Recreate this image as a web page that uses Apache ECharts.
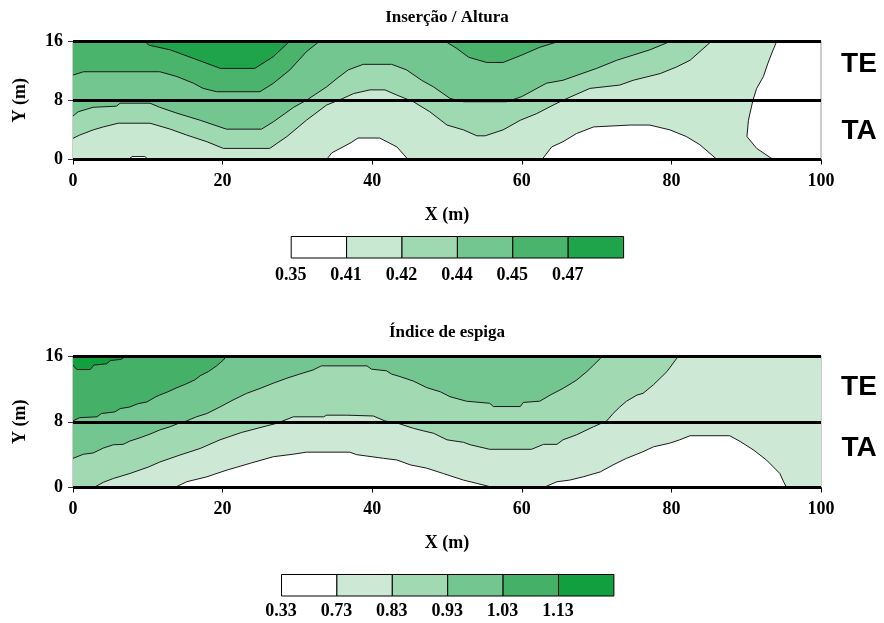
<!DOCTYPE html>
<html>
<head>
<meta charset="utf-8">
<script src="https://cdn.jsdelivr.net/npm/echarts@6/dist/echarts.min.js"></script>
<style>
  html, body { margin: 0; padding: 0; background: #fff; }
  #chart { width: 884px; height: 623px; }
</style>
</head>
<body>
<div id="chart"></div>
<script>
// ---- Class breaks and fills ----
const insercaoBreaks = ['0.35', '0.41', '0.42', '0.44', '0.45', '0.47'];
const indiceBreaks = ['0.33', '0.73', '0.83', '0.93', '1.03', '1.13'];
const insercaoColors = ['#ffffff', '#c8e8d2', '#9fd9b1', '#73c690', '#4ab36c', '#1fa34b'];
const indiceColors = ['#ffffff', '#cde9d6', '#a1d9b2', '#73c68f', '#45b068', '#129f40'];

// ---- Axis ranges ----
const xRange = [0, 100];
const yRange = [0, 16];
const bandLines = [0, 8, 16];        // limits of the TA / TE strata
const strata = ['TE', 'TA'];

// ---- Inserção / Altura: area where the value reaches each break (X m, Y m) ----
const insercaoZone1 = [[0,0],[7.4,0],[7.9,0.4],[9.6,0.4],[10.1,0],[33.9,0],[34.6,0.9],[36.1,1.7],[37.2,2.3],[38.1,2.9],[41.0,2.9],[43.3,1.7],[44.8,0],
  [62.7,0],[64.0,1.7],[65.5,2.4],[67.3,3.5],[69.6,4.4],[74.5,4.65],[77.1,4.65],[79.8,4.0],[82.0,3.1],[83.8,2.0],[86.1,0],
  [93.6,0],[91.4,1.5],[90.1,3.1],[90.3,5.3],[90.7,7.1],[90.9,8.0],[91.4,9.6],[92.3,11.2],[92.9,13.0],[93.6,14.8],[94.1,16],[0,16]];
const insercaoZone2 = [[0,2.86],[0.9,3.3],[2.7,4.0],[4.05,4.4],[6.05,4.9],[10.3,4.9],[13.0,4.1],[15.2,3.3],[17.9,2.4],[20.1,1.5],[26.3,1.5],[28.6,3.1],
  [31.2,5.3],[33.9,7.35],[36.1,8.25],[37.5,8.9],[39.7,9.4],[41.7,9.4],[43.3,8.7],[45.5,7.8],[47.7,6.45],[50.0,4.65],[52.2,4.0],[54.0,3.2],[55.1,3.2],
  [57.5,4.0],[59.8,5.3],[62.0,6.2],[64.2,7.35],[65.5,8.0],[69.1,9.6],[73.1,10.05],[74.9,10.7],[78.5,11.6],[80.7,12.5],[82.5,13.4],[85.4,16],[0,16]];
const insercaoZone3 = [[0,5.87],[0.7,6.45],[2.7,7.05],[5.8,7.2],[6.3,7.6],[10.3,7.6],[11.6,7.05],[13.9,6.25],[17.0,5.3],[20.5,4.1],[25.2,4.1],[26.8,5.1],
  [29.5,7.05],[31.2,8.0],[33.9,9.8],[35.3,10.95],[36.8,12.1],[38.8,12.85],[42.6,12.85],[44.6,12.1],[46.6,10.7],[48.2,9.8],[50.4,8.25],[52.2,7.8],
  [58.0,7.8],[60.0,8.5],[63.3,10.3],[65.5,10.7],[70.0,12.3],[72.7,13.4],[74.9,14.1],[77.1,14.8],[80.0,16],[0,16]];
const insercaoZone4a = [[0,11.4],[1.4,11.85],[11.6,11.85],[13.9,11.2],[16.1,10.3],[17.4,9.6],[19.2,9.15],[25.0,9.15],[26.8,10.3],[29.0,12.1],[31.2,14.55],[33.0,16],[0,16]];
const insercaoZone4b = [[49.7,16],[51.3,15.0],[52.9,13.8],[55.3,13.1],[57.5,13.1],[60.0,14.1],[62.4,15.15],[65.1,16]];
const insercaoZone5 = [[9.6,16],[10.1,15.45],[13.0,14.8],[16.1,13.65],[19.7,12.3],[24.3,12.3],[26.8,13.9],[29.0,16]];

// ---- Índice de espiga ----
const indiceZone1 = [[0,0],[13.6,0],[15.2,0.7],[17.9,1.3],[20.5,2.1],[23.7,2.95],[26.8,3.75],[29.45,4.05],[31.2,4.3],[37.0,4.3],[37.9,4.0],[41.5,3.55],
  [43.3,3.35],[45.1,2.75],[47.3,2.35],[49.5,1.7],[52.2,0.9],[54.0,0.5],[56.2,0],[62.9,0],[64.7,0.7],[66.4,0.9],[68.2,1.3],[70.5,1.9],[72.2,2.75],
  [74.0,3.55],[76.2,4.35],[77.6,4.95],[79.8,5.4],[81.1,5.8],[82.5,6.3],[87.8,6.3],[89.2,5.6],[91.0,4.55],[92.7,3.35],[94.5,1.7],[95.0,0.7],[95.4,0],
  [100,0],[100,16],[0,16]];
const indiceZone2 = [[0,0],[2.8,0],[4.05,0.63],[5.4,1.1],[7.6,1.7],[10.1,2.5],[11.6,3.1],[14.3,3.95],[17.0,4.75],[19.65,5.8],[22.55,6.7],[25.9,7.5],
  [27.2,7.8],[29.45,8.6],[33.5,8.6],[33.9,8.8],[36.6,8.8],[40.15,8.7],[41.7,8.1],[43.5,7.8],[45.5,7.2],[46.8,6.9],[48.2,6.6],[50.0,5.8],[52.2,5.5],
  [53.1,5.2],[55.7,4.65],[61.3,4.65],[62.9,5.25],[64.7,5.25],[65.5,5.8],[67.3,6.4],[69.6,7.4],[71.35,8.1],[72.2,9.0],[73.1,9.8],[74.0,10.5],
  [75.4,11.25],[76.2,11.45],[77.6,12.5],[79.4,14.1],[80.7,15.7],[81.0,16],[0,16]];
const indiceZone3 = [[0,3.55],[1.4,4.05],[2.7,4.2],[4.05,4.8],[5.4,5.2],[6.7,5.25],[7.6,5.65],[8.95,6.05],[10.3,6.5],[11.6,7.0],[13.0,7.4],[14.1,7.8],
  [15.2,8.1],[16.5,8.6],[17.9,9.0],[19.65,9.8],[21.4,10.65],[23.2,11.45],[25.0,12.05],[26.8,12.7],[28.6,13.3],[30.3,13.8],[32.1,14.3],[33.2,14.8],
  [39.3,14.8],[39.9,14.4],[41.9,14.2],[42.6,13.8],[43.7,13.5],[45.5,12.95],[47.3,12.15],[49.1,11.65],[50.4,11.05],[52.6,10.5],[55.7,10.25],
  [56.2,9.85],[59.8,9.85],[60.2,10.35],[62.4,10.5],[63.8,11.25],[65.5,12.05],[67.3,13.05],[68.7,14.1],[70.5,15.7],[70.7,16],[0,16]];
const indiceZone4 = [[0,8.1],[0.9,8.5],[3.2,8.6],[3.8,9.0],[5.6,9.2],[6.3,9.6],[7.6,9.8],[8.7,10.2],[9.85,10.4],[11.0,11.0],[11.6,11.25],[12.7,11.65],
  [13.9,12.15],[15.0,12.55],[16.3,13.1],[17.0,13.6],[18.1,14.1],[19.2,14.8],[20.1,15.5],[20.5,16],[0,16]];
const indiceZone5 = [[0,14.9],[0.5,14.35],[2.3,14.35],[2.8,14.9],[4.5,15.05],[5.0,15.45],[6.5,15.6],[7.0,16],[0,16]];

// Zones painted from the lowest class up, each one over the previous
const insercaoZones = [
  { level: 1, pts: insercaoZone1 }, { level: 2, pts: insercaoZone2 }, { level: 3, pts: insercaoZone3 },
  { level: 4, pts: insercaoZone4a }, { level: 4, pts: insercaoZone4b }, { level: 5, pts: insercaoZone5 }
];
const indiceZones = [
  { level: 1, pts: indiceZone1 }, { level: 2, pts: indiceZone2 }, { level: 3, pts: indiceZone3 },
  { level: 4, pts: indiceZone4 }, { level: 5, pts: indiceZone5 }
];

const SERIF = '"Liberation Serif", "Times New Roman", serif';
const SANS = '"Liberation Sans", Arial, sans-serif';

// An edge lying on the map frame is not a contour line
function onFrame(a, b) {
  if (a[0] === b[0] && (a[0] === xRange[0] || a[0] === xRange[1])) return true;
  if (a[1] === b[1] && (a[1] === yRange[0] || a[1] === yRange[1])) return true;
  return false;
}
// Split a closed zone outline into its open contour runs
function contourRuns(pts) {
  const n = pts.length;
  let start = 0;
  for (let i = 0; i < n; i++) {
    if (onFrame(pts[i], pts[(i + 1) % n])) { start = (i + 1) % n; break; }
  }
  const runs = [];
  let cur = [pts[start]];
  for (let k = 0; k < n; k++) {
    const i = (start + k) % n, j = (i + 1) % n;
    if (onFrame(pts[i], pts[j])) {
      if (cur.length > 1) runs.push(cur);
      cur = [pts[j]];
    } else {
      cur.push(pts[j]);
    }
  }
  if (cur.length > 1) runs.push(cur);
  return runs;
}

function zoneSeries(zones, colors, gridIdx) {
  const data = zones.map(z => [z.pts[0][0], z.pts[0][1], z.level]);
  return [
    {
      type: 'custom', name: 'fill' + gridIdx, xAxisIndex: gridIdx, yAxisIndex: gridIdx,
      clip: true, silent: true, data: data, encode: { x: 0, y: 1 },
      renderItem: function (params, api) {
        const z = zones[params.dataIndex];
        return {
          type: 'polygon',
          shape: { points: z.pts.map(p => api.coord(p)) },
          style: { fill: colors[z.level], stroke: null }
        };
      },
      z: 1
    },
    {
      type: 'custom', name: 'lines' + gridIdx, xAxisIndex: gridIdx, yAxisIndex: gridIdx,
      clip: true, silent: true, data: data, encode: { x: 0, y: 1 },
      renderItem: function (params, api) {
        const z = zones[params.dataIndex];
        return {
          type: 'group',
          children: contourRuns(z.pts).map(run => ({
            type: 'polyline',
            shape: { points: run.map(p => api.coord(p)) },
            style: { stroke: '#1a1a1a', lineWidth: 1, fill: null }
          }))
        };
      },
      markLine: {
        silent: true, symbol: 'none', animation: false,
        label: { show: false },
        lineStyle: { color: '#000', width: 3, type: 'solid' },
        data: bandLines.map(v => ({ yAxis: v }))
      },
      z: 2
    }
  ];
}

function xAxisOf(gridIdx) {
  return {
    type: 'value', gridIndex: gridIdx, min: xRange[0], max: xRange[1], interval: 20,
    name: 'X (m)', nameLocation: 'middle', nameGap: 47,
    nameTextStyle: { fontFamily: SERIF, fontWeight: 'bold', fontSize: 18, color: '#000' },
    axisLine: { show: true, lineStyle: { color: '#000', width: 1 } },
    axisTick: { show: true, length: 5, lineStyle: { color: '#000' } },
    axisLabel: { fontFamily: SERIF, fontWeight: 'bold', fontSize: 18, color: '#000', margin: 13 },
    splitLine: { show: false }
  };
}
function yAxisOf(gridIdx) {
  return {
    type: 'value', gridIndex: gridIdx, min: yRange[0], max: yRange[1], interval: 8,
    name: 'Y (m)', nameLocation: 'middle', nameGap: 44, nameRotate: 90,
    nameTextStyle: { fontFamily: SERIF, fontWeight: 'bold', fontSize: 18, color: '#000' },
    axisLine: { show: true, lineStyle: { color: '#888', width: 1 } },
    axisTick: { show: true, length: 5, lineStyle: { color: '#333' } },
    axisLabel: { fontFamily: SERIF, fontWeight: 'bold', fontSize: 18, color: '#000', margin: 10 },
    splitLine: { show: false }
  };
}

// Colour key: a row of boxes with the break values under the box edges
function colorKey(left, top, breaks, colors, labelGap) {
  const w = 55.4, h = 21.5;
  const items = [];
  colors.forEach((c, i) => {
    items.push({
      type: 'rect', left: left + i * w, top: top,
      shape: { width: w, height: h },
      style: { fill: c, stroke: '#000', lineWidth: 1 }
    });
  });
  breaks.forEach((b, i) => {
    items.push({
      type: 'text', x: left + i * w, y: top + h + labelGap,
      style: { text: b, font: 'bold 18px ' + SERIF, fill: '#000', textAlign: 'center', textVerticalAlign: 'middle' }
    });
  });
  return items;
}
function label(text, x, y, font) {
  return { type: 'text', x: x, y: y, style: { text: text, font: font, fill: '#000', textAlign: 'center', textVerticalAlign: 'middle' } };
}

const chart = echarts.init(document.getElementById('chart'), null, { renderer: 'canvas' });
chart.setOption({
  animation: false,
  backgroundColor: '#fff',
  grid: [
    { left: 73, width: 748, top: 41, height: 118.5, show: true, borderColor: '#999', borderWidth: 1, backgroundColor: 'transparent' },
    { left: 73, width: 748, top: 356, height: 131.5, show: true, borderColor: '#999', borderWidth: 1, backgroundColor: 'transparent' }
  ],
  xAxis: [xAxisOf(0), xAxisOf(1)],
  yAxis: [yAxisOf(0), yAxisOf(1)],
  series: [].concat(zoneSeries(insercaoZones, insercaoColors, 0), zoneSeries(indiceZones, indiceColors, 1)),
  graphic: [].concat(
    [
      label('Inserção / Altura', 447, 18, 'bold 17px ' + SERIF),
      label('Índice de espiga', 447, 333, 'bold 17px ' + SERIF),
      label(strata[0], 859, 64, 'bold 28px ' + SANS),
      label(strata[1], 859, 131, 'bold 28px ' + SANS),
      label(strata[0], 859, 387, 'bold 28px ' + SANS),
      label(strata[1], 859, 448, 'bold 28px ' + SANS)
    ],
    colorKey(290.7, 236, insercaoBreaks, insercaoColors, 18),
    colorKey(281, 574, indiceBreaks, indiceColors, 16)
  )
});
</script>
</body>
</html>
